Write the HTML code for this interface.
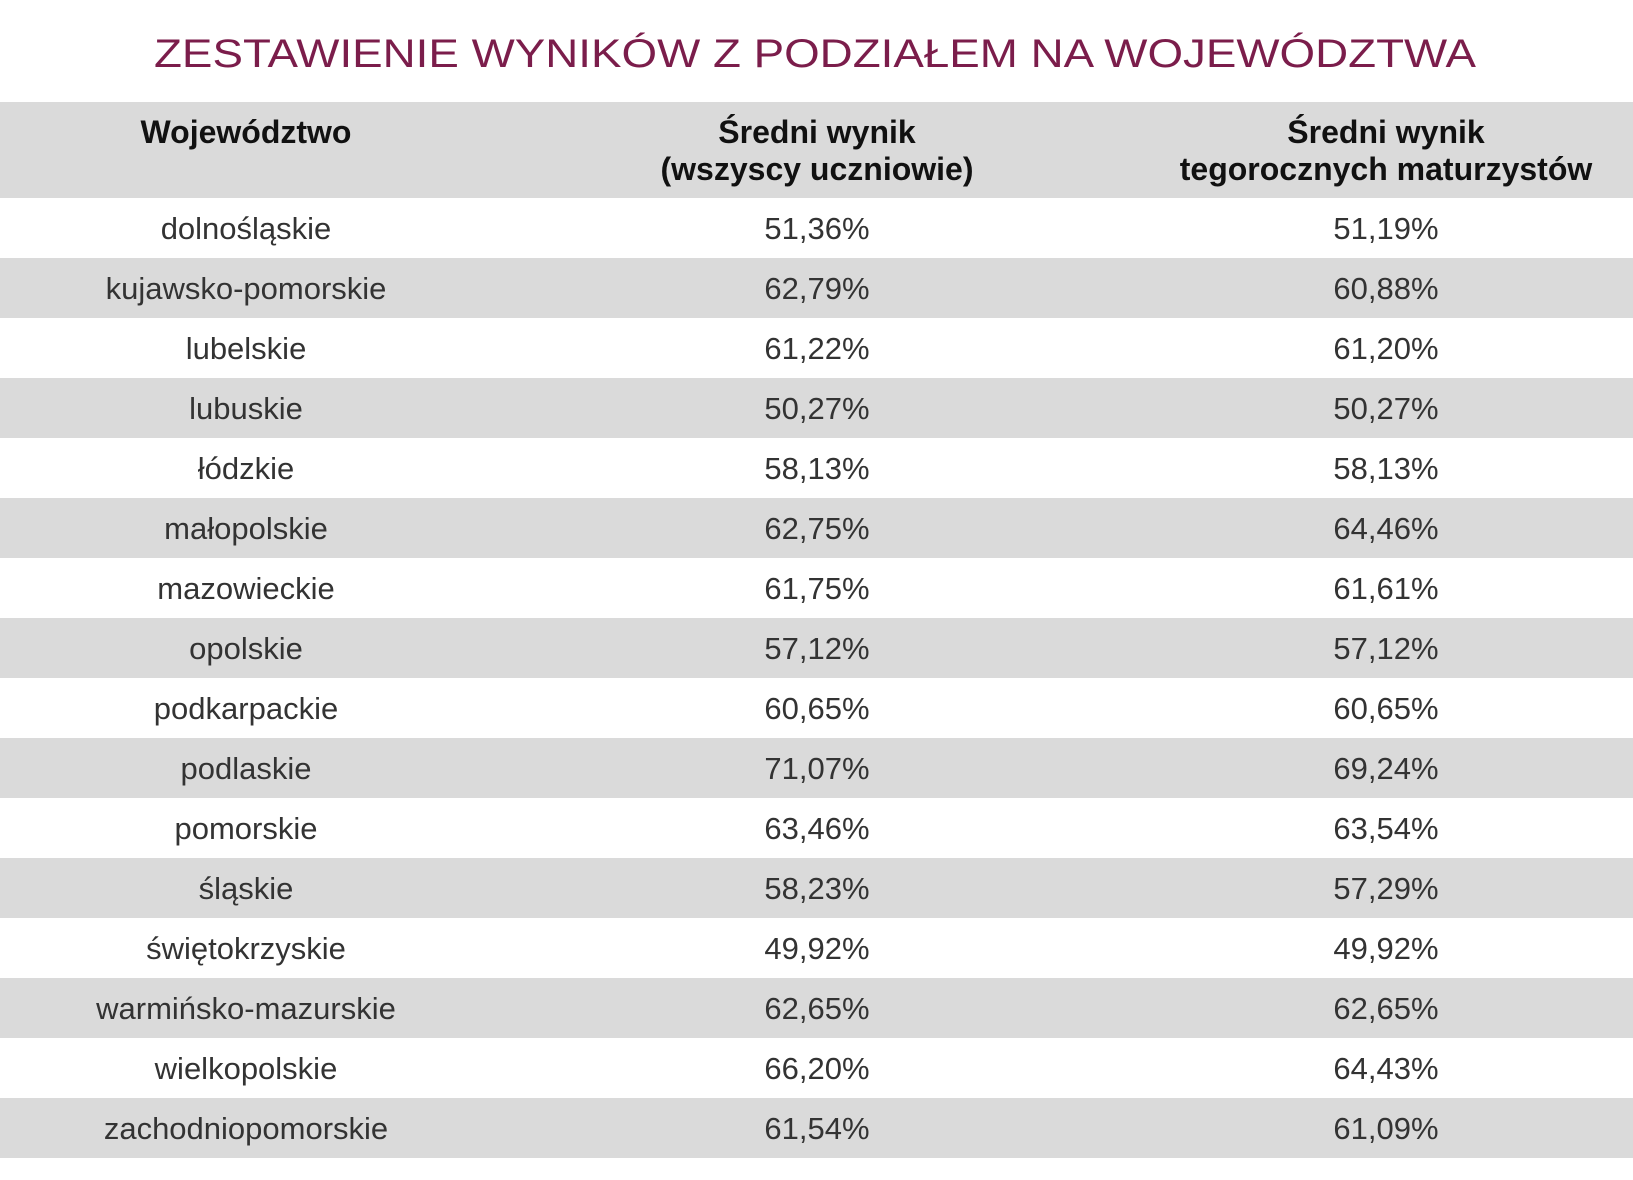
<!DOCTYPE html>
<html><head><meta charset="utf-8"><style>html,body{margin:0;padding:0;background:#fff}svg{display:block}</style></head>
<body>
<svg width="1633" height="1180" viewBox="0 0 1633 1180" xmlns="http://www.w3.org/2000/svg" font-family="Liberation Sans, sans-serif">
<rect width="1633" height="1180" fill="#fff"/>
<text x="815" y="67" text-anchor="middle" font-size="40" fill="#7b1d4b" textLength="1322" lengthAdjust="spacingAndGlyphs">ZESTAWIENIE WYNIKÓW Z PODZIAŁEM NA WOJEWÓDZTWA</text>
<rect x="0" y="102" width="1633" height="96" fill="#dadada"/>
<g font-size="32" font-weight="bold" fill="#111" text-anchor="middle">
<text x="246" y="143">Województwo</text>
<text x="817" y="143">Średni wynik</text>
<text x="817" y="180">(wszyscy uczniowie)</text>
<text x="1386" y="143">Średni wynik</text>
<text x="1386" y="180">tegorocznych maturzystów</text>
</g>
<g fill="#dadada">
<rect x="0" y="258" width="1633" height="60"/>
<rect x="0" y="378" width="1633" height="60"/>
<rect x="0" y="498" width="1633" height="60"/>
<rect x="0" y="618" width="1633" height="60"/>
<rect x="0" y="738" width="1633" height="60"/>
<rect x="0" y="858" width="1633" height="60"/>
<rect x="0" y="978" width="1633" height="60"/>
<rect x="0" y="1098" width="1633" height="60"/>
</g>
<g font-size="31" fill="#333" text-anchor="middle">
<text x="246" y="239">dolnośląskie</text><text x="817" y="239">51,36%</text><text x="1386" y="239">51,19%</text>
<text x="246" y="299">kujawsko-pomorskie</text><text x="817" y="299">62,79%</text><text x="1386" y="299">60,88%</text>
<text x="246" y="359">lubelskie</text><text x="817" y="359">61,22%</text><text x="1386" y="359">61,20%</text>
<text x="246" y="419">lubuskie</text><text x="817" y="419">50,27%</text><text x="1386" y="419">50,27%</text>
<text x="246" y="479">łódzkie</text><text x="817" y="479">58,13%</text><text x="1386" y="479">58,13%</text>
<text x="246" y="539">małopolskie</text><text x="817" y="539">62,75%</text><text x="1386" y="539">64,46%</text>
<text x="246" y="599">mazowieckie</text><text x="817" y="599">61,75%</text><text x="1386" y="599">61,61%</text>
<text x="246" y="659">opolskie</text><text x="817" y="659">57,12%</text><text x="1386" y="659">57,12%</text>
<text x="246" y="719">podkarpackie</text><text x="817" y="719">60,65%</text><text x="1386" y="719">60,65%</text>
<text x="246" y="779">podlaskie</text><text x="817" y="779">71,07%</text><text x="1386" y="779">69,24%</text>
<text x="246" y="839">pomorskie</text><text x="817" y="839">63,46%</text><text x="1386" y="839">63,54%</text>
<text x="246" y="899">śląskie</text><text x="817" y="899">58,23%</text><text x="1386" y="899">57,29%</text>
<text x="246" y="959">świętokrzyskie</text><text x="817" y="959">49,92%</text><text x="1386" y="959">49,92%</text>
<text x="246" y="1019">warmińsko-mazurskie</text><text x="817" y="1019">62,65%</text><text x="1386" y="1019">62,65%</text>
<text x="246" y="1079">wielkopolskie</text><text x="817" y="1079">66,20%</text><text x="1386" y="1079">64,43%</text>
<text x="246" y="1139">zachodniopomorskie</text><text x="817" y="1139">61,54%</text><text x="1386" y="1139">61,09%</text>
</g>
</svg>
</body></html>
